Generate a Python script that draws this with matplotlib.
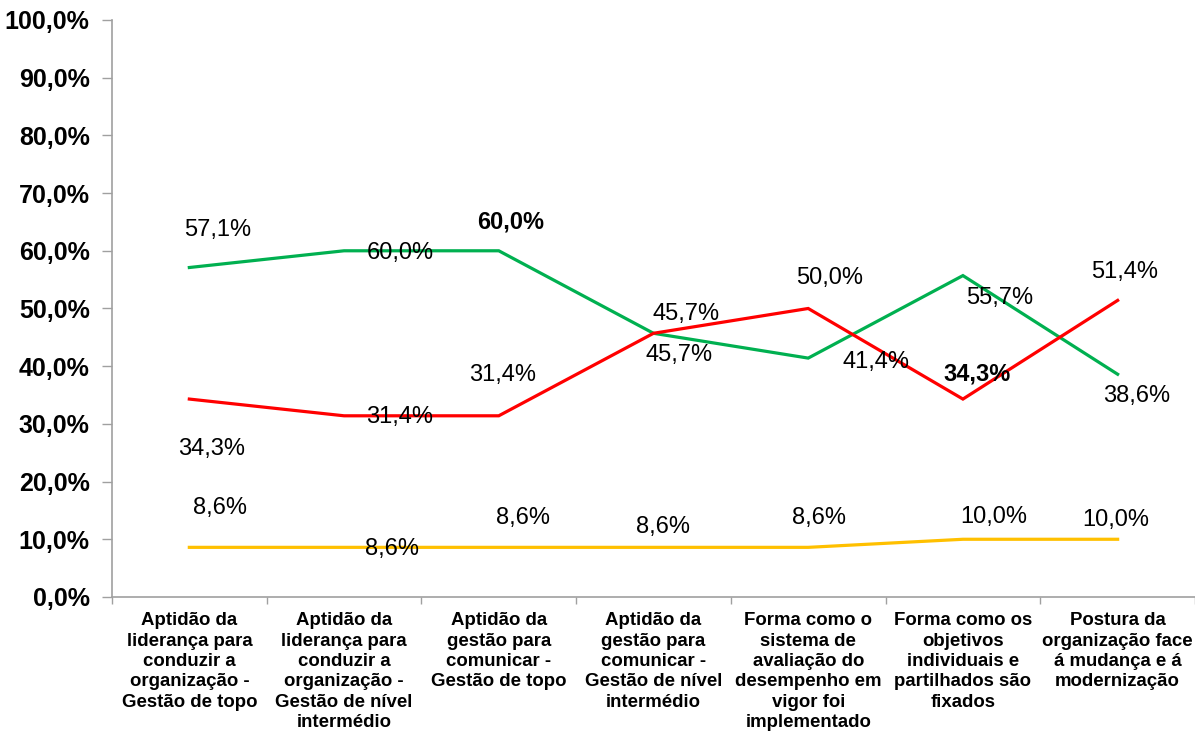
import numpy as np
import matplotlib
matplotlib.use("Agg")
import matplotlib.pyplot as plt
from matplotlib.ticker import FuncFormatter, MultipleLocator

plt.rcParams['font.family'] = ['Liberation Sans', 'DejaVu Sans']

# --- donnees ---------------------------------------------------------------
categorias = [
    "Aptidão da\nliderança para\nconduzir a\norganização -\nGestão de topo",
    "Aptidão da\nliderança para\nconduzir a\norganização -\nGestão de nível\nintermédio",
    "Aptidão da\ngestão para\ncomunicar -\nGestão de topo",
    "Aptidão da\ngestão para\ncomunicar -\nGestão de nível\nintermédio",
    "Forma como o\nsistema de\navaliação do\ndesempenho em\nvigor foi\nimplementado",
    "Forma como os\nobjetivos\nindividuais e\npartilhados são\nfixados",
    "Postura da\norganização face\ná mudança e á\nmodernização",
]
verde = [57.1, 60.0, 60.0, 45.7, 41.4, 55.7, 38.6]
vermelho = [34.3, 31.4, 31.4, 45.7, 50.0, 34.3, 51.4]
amarelo = [8.6, 8.6, 8.6, 8.6, 8.6, 10.0, 10.0]

# decalages des etiquettes (pixels) et gras
off_verde = [(28, 38), (56, -2), (12, 29), (26, -22), (68, -4), (37, -22), (19, -22)]
off_vermelho = [(22, -50), (56, -1), (4, 41), (33, 19), (21, 30), (14, 25), (7, 28)]
off_amarelo = [(31, 39), (48, -2), (24, 29), (10, 20), (11, 29), (31, 22), (-2, 19)]
gras_verde = [2]
gras_vermelho = [5]

fig = plt.figure(figsize=(11.95, 7.35), dpi=100)
ax = fig.add_axes([0.0937, 0.1878, 0.9063, 0.785])

x = np.arange(len(categorias))
series = [
    (verde, "#00B050", off_verde, gras_verde),
    (vermelho, "#FF0000", off_vermelho, gras_vermelho),
    (amarelo, "#FFC000", off_amarelo, []),
]
for vals, cor, offs, gras in series:
    ax.plot(x, vals, color=cor, lw=2.3, solid_joinstyle="miter", zorder=3)
    for i, v in enumerate(vals):
        txt = f"{v:.1f}%".replace(".", ",")
        ax.annotate(txt, (x[i], v), xytext=offs[i], textcoords="offset pixels",
                    ha="center", va="center", fontsize=17,
                    fontweight="bold" if i in gras else "normal", zorder=4)

ax.set_xlim(-0.5, len(categorias) - 0.5)
ax.set_ylim(0, 100)
ax.yaxis.set_major_locator(MultipleLocator(10))
ax.yaxis.set_major_formatter(FuncFormatter(lambda v, p: f"{v:.1f}%".replace(".", ",")))
ax.set_xticks(x)
ax.set_xticklabels(categorias, fontsize=13.4, fontweight="bold", linespacing=1.26)
ax.set_xticks(np.arange(-0.5, len(categorias)), minor=True)
ax.tick_params(axis="x", which="major", length=0, pad=11)
ax.tick_params(axis="x", which="minor", length=5, color="#A0A0A0", width=1)
ax.tick_params(axis="y", length=7, color="#A0A0A0", width=1, pad=9)
for lab in ax.get_yticklabels():
    lab.set_fontsize(18)
    lab.set_fontweight("bold")

for s in ["top", "right"]:
    ax.spines[s].set_visible(False)
for s in ["left", "bottom"]:
    ax.spines[s].set_color("#A0A0A0")
    ax.spines[s].set_linewidth(1.2)

fig.savefig("out.png", dpi=100)
